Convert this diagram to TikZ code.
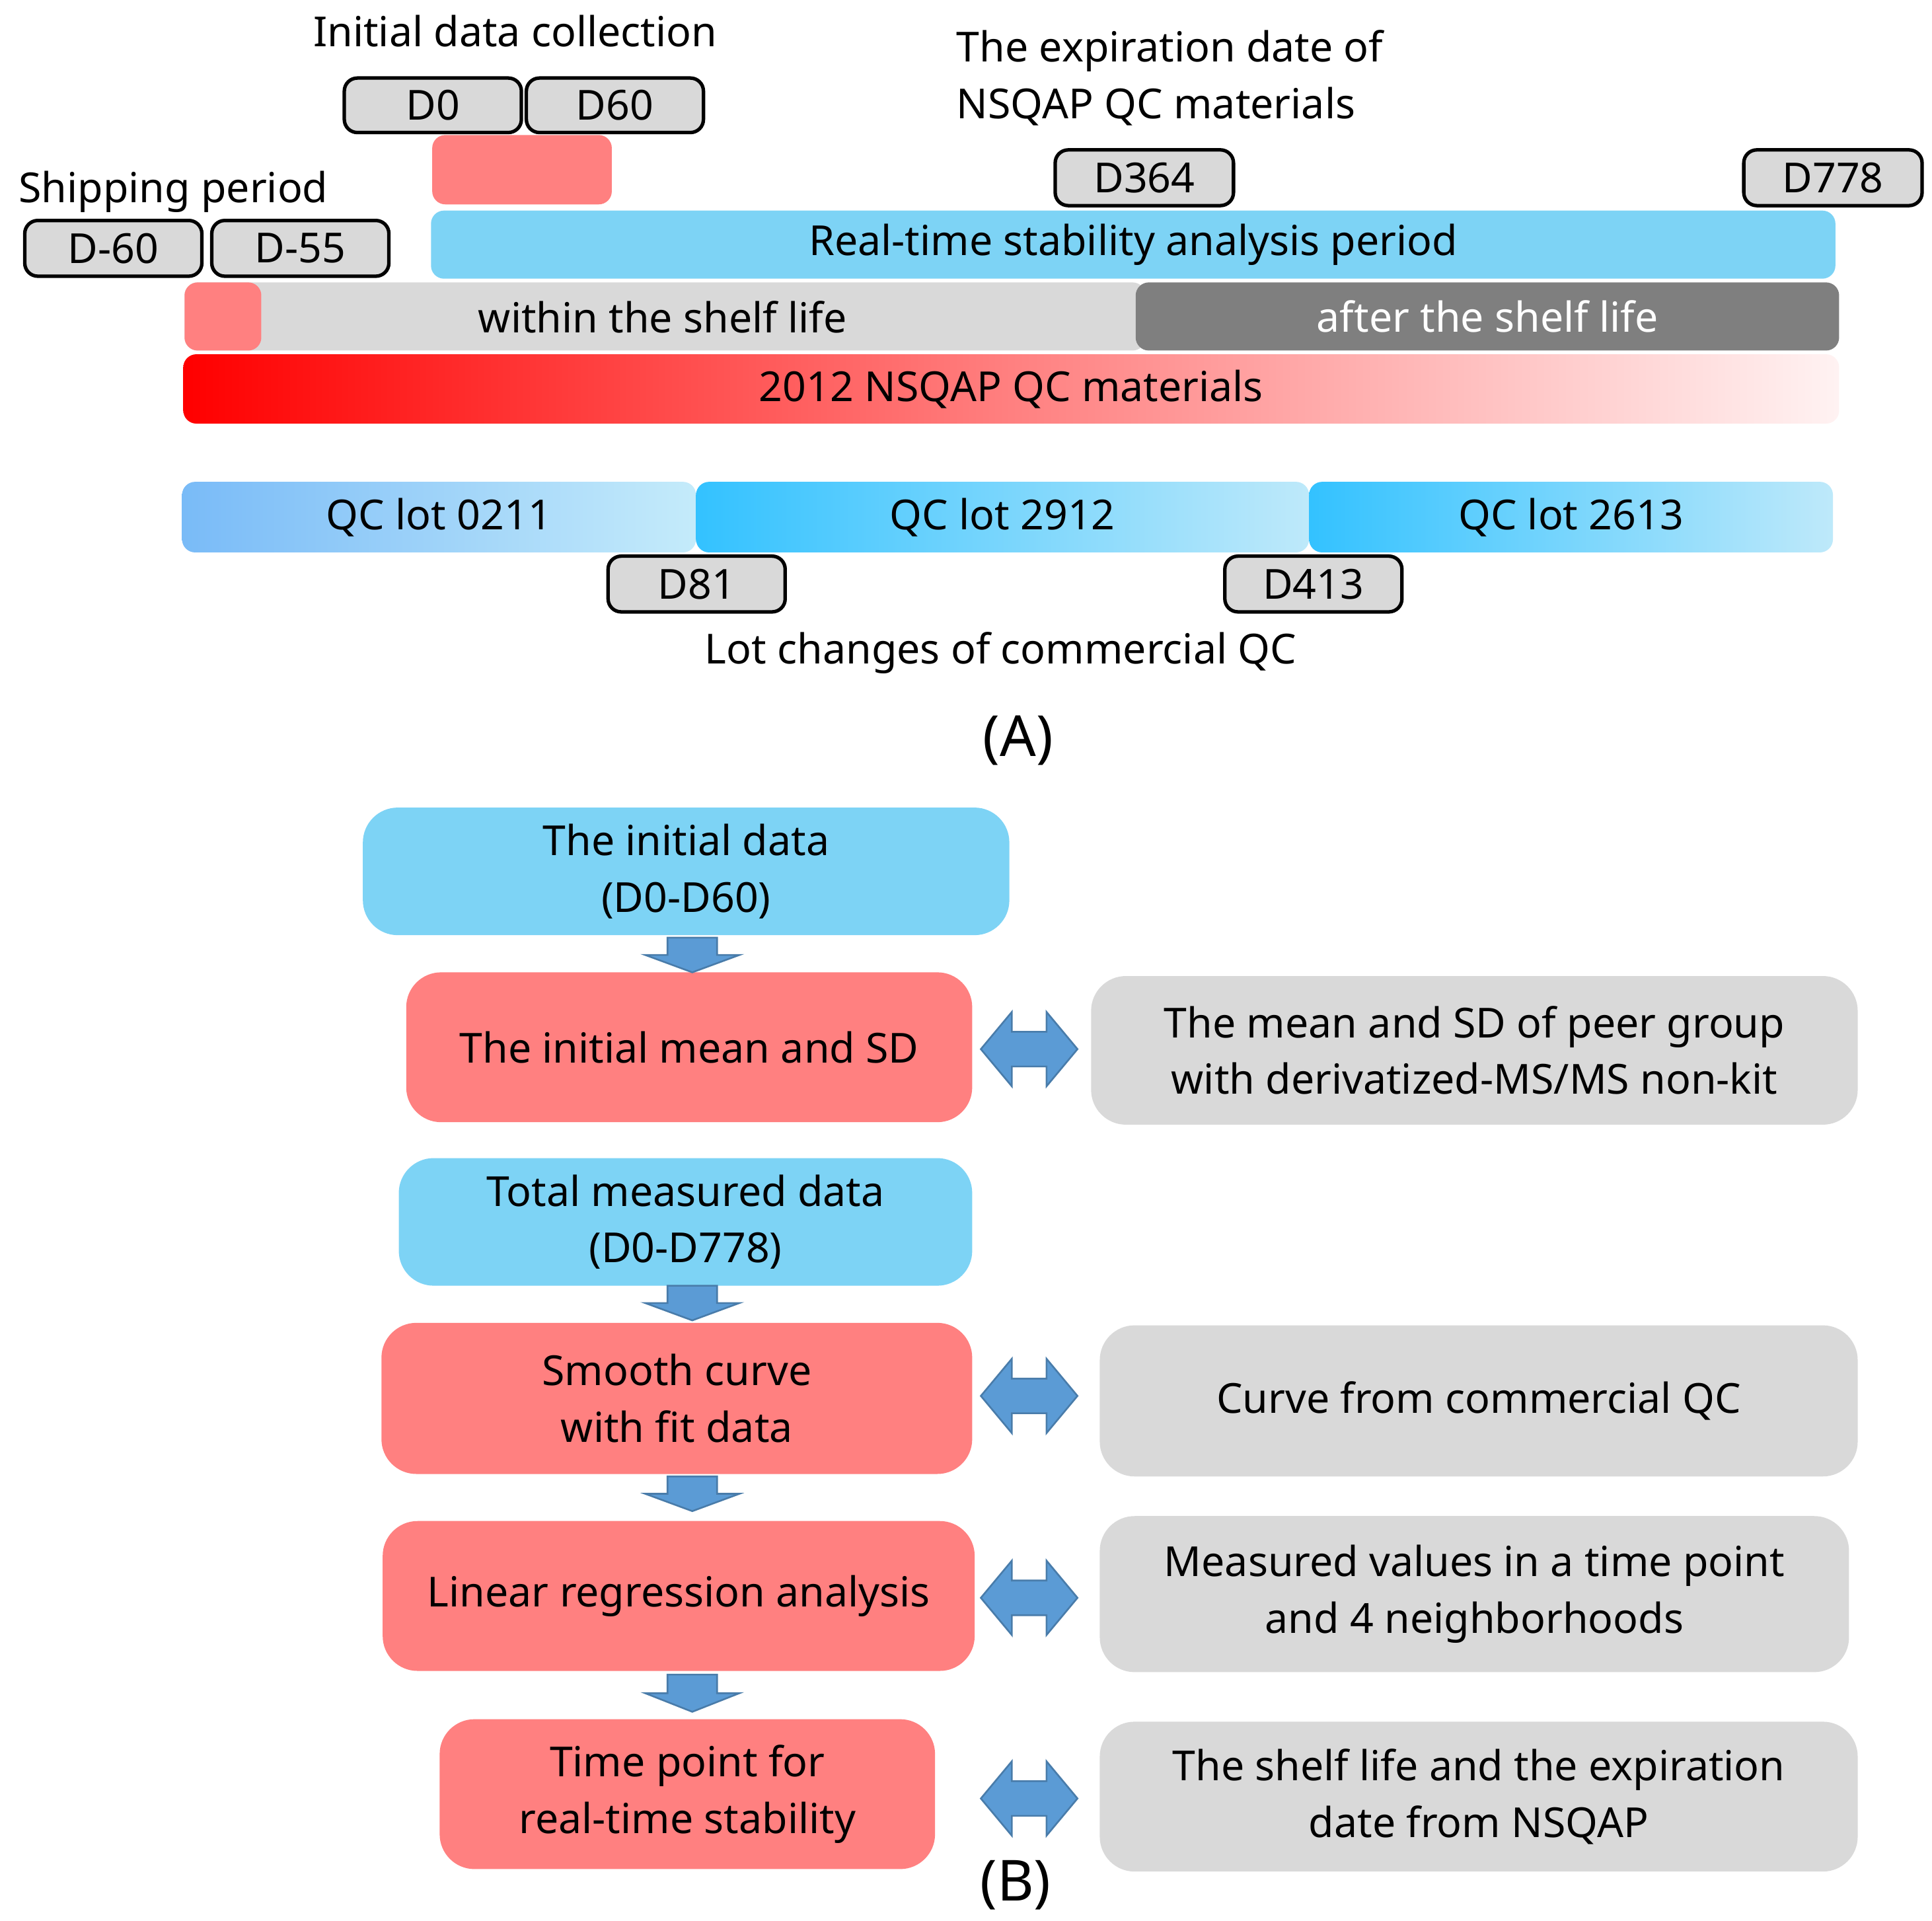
\documentclass[tikz,border=0pt]{standalone}
\usepackage{fontspec}
\setmainfont{Noto Sans}
\usetikzlibrary{fit}
\definecolor{lb}{HTML}{7DD3F5}
\definecolor{pk}{HTML}{FF8080}
\definecolor{lg}{HTML}{D9D9D9}
\definecolor{dg}{HTML}{7F7F7F}
\definecolor{ab}{HTML}{5B9BD5}
\begin{document}
\begin{tikzpicture}[x=0.01cm,y=-0.01cm,
 every node/.style={font=\fontsize{9.5}{13}\selectfont},
 fb/.style={inner sep=0pt, align=center},
 dbox/.style={fb, draw=black, line width=0.8pt, fill=lg, rounded corners=3pt},
 bar/.style={fb, rounded corners=3pt},
 big/.style={fb, rounded corners=8pt},
 arr/.style={fill=ab, draw=ab!80!black, line width=0.4pt}]
\useasboundingbox (0,0) rectangle (1560,1550.4);
% ---- (A)
\node (t1) at (416,25) {Initial data collection};
\node[dbox, fit={(278,63)(421,107)}] (d0) {};
\node at (d0) {D0};
\node[dbox, fit={(425,63)(568,107)}] (d60) {};
\node at (d60) {D60};
\node[bar, fill=pk, fit={(349,109)(494,165)}] (p1) {};
\node[anchor=west, align=left] (t2) at (760,63) {The expiration date of\\NSQAP QC materials};
\node[dbox, fit={(852,121)(996,166)}] (d364) {};
\node at (d364) {D364};
\node[dbox, fit={(1408,121)(1552,166)}] (d778) {};
\node at (d778) {D778};
\node (t3) at (140,155) {Shipping period};
\node[dbox, fit={(20,178)(163,223)}] (dm60) {};
\node at (dm60) {D-60};
\node[dbox, fit={(171,178)(314,223)}] (dm55) {};
\node at (dm55) {D-55};
\node[bar, fill=lb, fit={(348,170)(1482,225)}] (rt) {};
\node at (rt) {Real-time stability analysis period};
\node[bar, fill=lg, fit={(149,228)(925,283)}] (ws) {};
\node[bar, fill=pk, fit={(149,228)(211,283)}] (p2) {};
\node at (535,256) {within the shelf life};
\node[bar, fill=dg, fit={(917,228)(1485,283)}] (as) {};
\node[text=white] at (as) {after the shelf life};
\node[bar, left color=red, right color=red!5, middle color=pk, fit={(148,286)(1485,342)}] (nq) {};
\node at (nq) {2012 NSQAP QC materials};
\node[bar, left color=lb!85!blue!90, right color=lb!45, fit={(147,389)(562,446)}] (q1) {};
\node at (q1) {QC lot 0211};
\node[bar, left color=cyan!70!blue!80, right color=lb!50, fit={(562,389)(1057,446)}] (q2) {};
\node at (q2) {QC lot 2912};
\node[bar, left color=cyan!70!blue!80, right color=lb!50, fit={(1057,389)(1480,446)}] (q3) {};
\node at (q3) {QC lot 2613};
\node[dbox, fit={(491,449)(634,494)}] (d81) {};
\node at (d81) {D81};
\node[dbox, fit={(989,449)(1132,494)}] (d413) {};
\node at (d413) {D413};
\node (t4) at (808,527) {Lot changes of commercial QC};
\node[font=\fontsize{13}{15}\selectfont] (A) at (822,598) {(A)};
% ---- (B)
\node[big, fill=lb, fit={(293,652)(815,755)}] (b1) {};
\node[align=center] at (b1) {The initial data\\(D0-D60)};
\node[big, fill=pk, fit={(328,785)(785,906)}] (r1) {};
\node at (r1) {The initial mean and SD};
\node[big, fill=lg, fit={(881,788)(1500,908)}] (g1) {};
\node[align=center] at (g1) {The mean and SD of peer group\\with derivatized-MS/MS non-kit};
\node[big, fill=lb, fit={(322,935)(785,1038)}] (b2) {};
\node[align=center] at (b2) {Total measured data\\(D0-D778)};
\node[big, fill=pk, fit={(308,1068)(785,1190)}] (r2) {};
\node[align=center] at (r2) {Smooth curve\\with fit data};
\node[big, fill=lg, fit={(888,1070)(1500,1192)}] (g2) {};
\node at (g2) {Curve from commercial QC};
\node[big, fill=pk, fit={(309,1228)(787,1349)}] (r3) {};
\node at (r3) {Linear regression analysis};
\node[big, fill=lg, fit={(888,1224)(1493,1350)}] (g3) {};
\node[align=center] at (g3) {Measured values in a time point\\and 4 neighborhoods};
\node[big, fill=pk, fit={(355,1388)(755,1509)}] (r4) {};
\node[align=center] at (r4) {Time point for\\real-time stability};
\node[big, fill=lg, fit={(888,1390)(1500,1511)}] (g4) {};
\node[align=center] at (g4) {The shelf life and the expiration\\date from NSQAP};
\node[font=\fontsize{13}{15}\selectfont] (B) at (820,1522) {(B)};
% down arrows
\foreach \t/\b in {757/785, 1038/1066, 1192/1220, 1352/1382}{
 \pgfmathsetmacro\m{\t+0.5*(\b-\t)}
 \draw[arr] (539,\t) -- (579,\t) -- (579,\m) -- (597,\m) -- (559,\b) -- (521,\m) -- (539,\m) -- cycle;}
% double arrows
\foreach \c in {847,1127,1290,1452}{
 \draw[arr] (792,\c) -- (817,\c-30) -- (817,\c-14) -- (845,\c-14) -- (845,\c-30) -- (870,\c)
  -- (845,\c+30) -- (845,\c+14) -- (817,\c+14) -- (817,\c+30) -- cycle;}
\end{tikzpicture}
\end{document}
